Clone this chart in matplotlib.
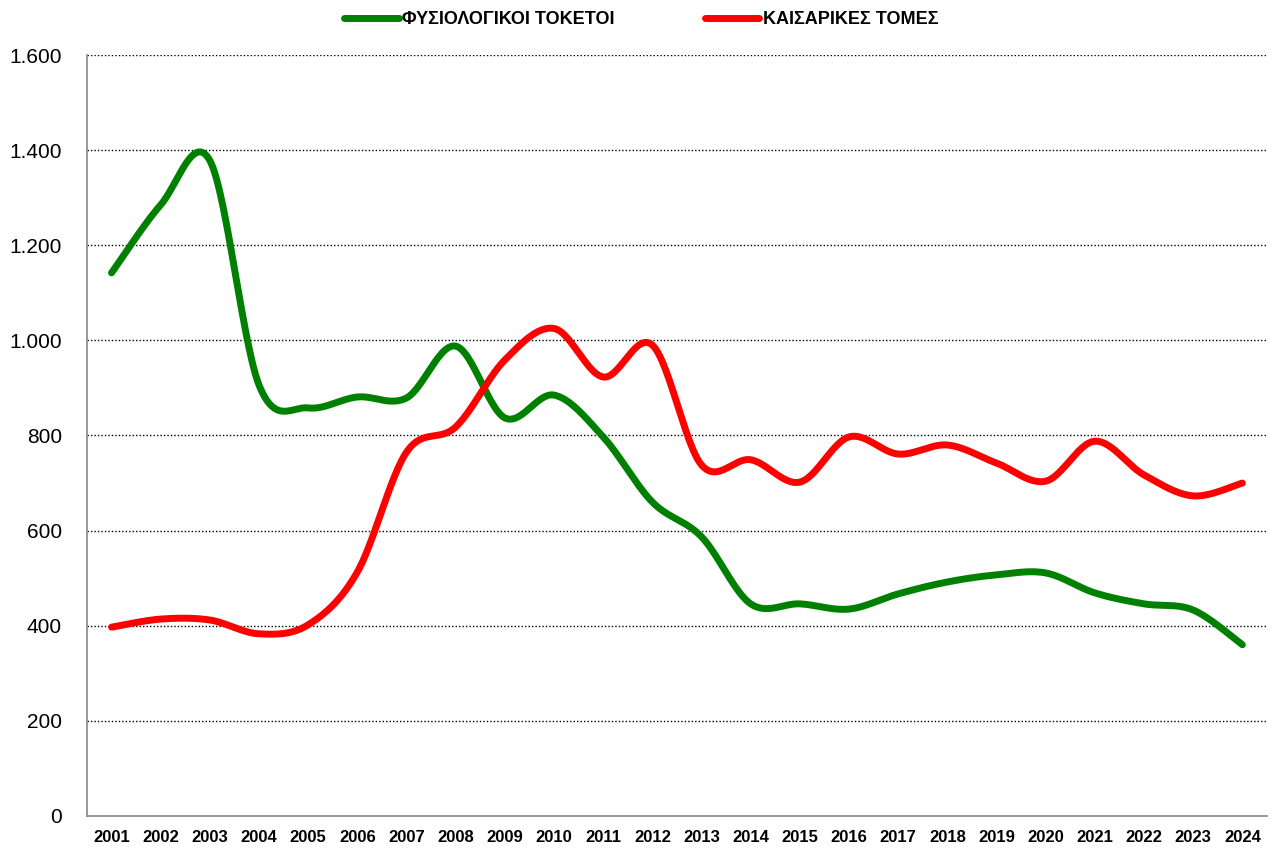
import numpy as np
import matplotlib.pyplot as plt

years = list(range(2001, 2025))
natural = [1142, 1285, 1378, 906, 858, 881, 879, 988, 837, 885, 797, 660,
           587, 446, 446, 435, 467, 492, 507, 511, 469, 446, 433, 360]
caesarean = [397, 414, 412, 383, 402, 513, 765, 818, 959, 1025, 923, 990,
             738, 749, 702, 797, 761, 780, 742, 704, 788, 717, 673, 700]


def smooth(x, y, n=30):
    # Catmull-Rom curve through the points, like Excel's smoothed line
    x = np.asarray(x, float)
    y = np.asarray(y, float)
    px = np.concatenate([[x[0]], x, [x[-1]]])
    py = np.concatenate([[y[0]], y, [y[-1]]])
    xs, ys = [], []
    t = np.linspace(0, 1, n)
    for i in range(1, len(px) - 2):
        for p, out in ((px, xs), (py, ys)):
            p0, p1, p2, p3 = p[i - 1], p[i], p[i + 1], p[i + 2]
            c1 = p1 + (p2 - p0) / 6
            c2 = p2 - (p3 - p1) / 6
            out.extend((1 - t) ** 3 * p1 + 3 * (1 - t) ** 2 * t * c1
                       + 3 * (1 - t) * t ** 2 * c2 + t ** 3 * p2)
    return np.array(xs), np.array(ys)


def main():
    plt.rcParams['font.family'] = ['Liberation Sans', 'DejaVu Sans']
    fig = plt.figure(figsize=(12.75, 8.52), dpi=100)
    ax = fig.add_axes([0.0682, 0.0423, 0.9255, 0.8931])

    idx = np.arange(len(years))
    gx, gy = smooth(idx, natural)
    rx, ry = smooth(idx, caesarean)
    ax.plot(gx, gy, color='#008000', lw=5, solid_capstyle='round',
            label='ΦΥΣΙΟΛΟΓΙΚΟΙ ΤΟΚΕΤΟΙ', zorder=3)
    ax.plot(rx, ry, color='#ff0000', lw=5, solid_capstyle='round',
            label='ΚΑΙΣΑΡΙΚΕΣ ΤΟΜΕΣ', zorder=3)

    ax.set_xlim(-0.5, len(years) - 0.5)
    ax.set_ylim(0, 1600)
    ax.set_yticks(range(0, 1601, 200))
    ax.set_yticklabels([f'{v:,}'.replace(',', '.') for v in range(0, 1601, 200)],
                       fontsize=15)
    ax.set_xticks(idx)
    ax.set_xticklabels([str(y) for y in years], fontsize=12, fontweight='bold')
    ax.tick_params(length=0, pad=10)
    ax.tick_params(axis='y', pad=18)

    ax.yaxis.grid(True, color='black', linestyle=(0, (1, 1.5)), lw=1)
    for s in ['top', 'right']:
        ax.spines[s].set_visible(False)
    for s in ['left', 'bottom']:
        ax.spines[s].set_color('#888888')
        ax.spines[s].set_linewidth(1.2)

    fig.legend(loc='upper center', bbox_to_anchor=(0.503, 1.006), ncol=2,
               frameon=False, handlelength=3.0, handletextpad=0.2,
               columnspacing=5.0, prop={'weight': 'bold', 'size': 13})

    fig.savefig('out.png', dpi=100)


if __name__ == "__main__":
    main()
